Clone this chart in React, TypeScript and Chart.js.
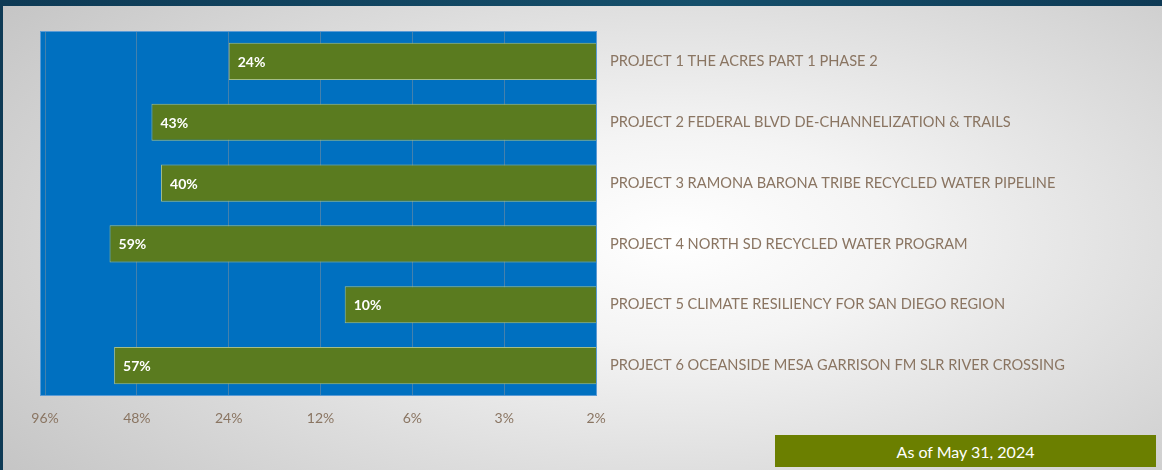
import { useEffect, useRef } from "react";
import { Chart, registerables } from "chart.js";

Chart.register(...registerables);

const categories = [
  "PROJECT 1 THE ACRES PART 1 PHASE 2",
  "PROJECT 2 FEDERAL BLVD DE-CHANNELIZATION & TRAILS",
  "PROJECT 3 RAMONA BARONA TRIBE RECYCLED WATER PIPELINE",
  "PROJECT 4 NORTH SD RECYCLED WATER PROGRAM",
  "PROJECT 5 CLIMATE RESILIENCY FOR SAN DIEGO REGION",
  "PROJECT 6 OCEANSIDE MESA GARRISON FM SLR RIVER CROSSING",
];
const values = [24, 43, 40, 59, 10, 57];
const tickValues = [96, 48, 24, 12, 6, 3, 1.5];
const tickLabels = ["96%", "48%", "24%", "12%", "6%", "3%", "2%"];
const asOfText = "As of May 31, 2024";

const FONT = "Lato, 'Open Sans', sans-serif";
const TEXT_COLOR = "#8a7562";

export default function App() {
  const ref = useRef<HTMLCanvasElement | null>(null);

  useEffect(() => {
    if (!ref.current) return;
    const plotBg = {
      id: "plotBg",
      beforeDraw(chart: any) {
        const { ctx, chartArea: a } = chart;
        ctx.save();
        ctx.fillStyle = "#0070c0";
        ctx.fillRect(a.left, a.top, a.right - a.left, a.bottom - a.top);
        ctx.restore();
      },
      afterDraw(chart: any) {
        const { ctx, chartArea: a } = chart;
        ctx.save();
        ctx.strokeStyle = "#5b9bd5";
        ctx.lineWidth = 1;
        ctx.strokeRect(a.left + 0.5, a.top + 0.5, a.right - a.left - 1, a.bottom - a.top - 1);
        ctx.restore();
      },
    };
    const dataLabels = {
      id: "dataLabels",
      afterDatasetsDraw(chart: any) {
        const { ctx } = chart;
        const meta = chart.getDatasetMeta(0);
        ctx.save();
        ctx.fillStyle = "#ffffff";
        ctx.font = `bold 14px ${FONT}`;
        ctx.textBaseline = "middle";
        ctx.textAlign = "left";
        meta.data.forEach((bar: any, i: number) => {
          const left = Math.min(bar.x, bar.base);
          ctx.fillText(values[i] + "%", left + 9, bar.y + 1);
        });
        ctx.restore();
      },
    };

    const chart = new Chart(ref.current, {
      type: "bar",
      data: {
        labels: categories,
        datasets: [
          {
            data: values,
            backgroundColor: "#5a7b1f",
            borderColor: "#a4bd86",
            borderWidth: 1,
            borderSkipped: false,
            barPercentage: 0.61,
            categoryPercentage: 1,
          },
        ],
      },
      options: {
        indexAxis: "y",
        responsive: false,
        animation: false,
        layout: { padding: { left: 40, top: 31, right: 0, bottom: 0 } },
        plugins: { legend: { display: false }, tooltip: { enabled: false } },
        scales: {
          x: {
            type: "logarithmic",
            reverse: true,
            min: 1.49,
            max: 99.7,
            z: 1,
            afterBuildTicks(scale: any) {
              scale.ticks = tickValues.map((v) => ({ value: v }));
            },
            afterFit(scale: any) {
              scale.height = 44;
            },
            grid: { color: "rgba(150,150,150,0.45)", drawTicks: false, lineWidth: 1 },
            border: { display: false },
            ticks: {
              autoSkip: false,
              maxRotation: 0,
              padding: 14,
              color: TEXT_COLOR,
              font: { family: FONT, size: 14 },
              callback: (v: any) => {
                const idx = tickValues.indexOf(Number(v));
                return idx >= 0 ? tickLabels[idx] : "";
              },
            },
          },
          y: {
            position: "right",
            afterFit(scale: any) {
              scale.width = 1162 - 597;
            },
            grid: { display: false, drawTicks: false },
            border: { display: false },
            ticks: {
              padding: 13,
              color: TEXT_COLOR,
              font: { family: FONT, size: 14.6 },
            },
          },
        },
      },
      plugins: [plotBg, dataLabels],
    } as any);
    return () => chart.destroy();
  }, []);

  return (
    <div
      style={{
        position: "absolute",
        left: 0,
        top: 0,
        width: 1162,
        height: 470,
        overflow: "hidden",
        background: "linear-gradient(90deg, #0e3a55 0%, #154f6b 60%, #0e3a55 100%)",
      }}
    >
      <div
        style={{
          position: "absolute",
          left: 3,
          top: 6,
          width: 1159,
          height: 464,
          background:
            "radial-gradient(ellipse 75% 90% at 58% 50%, #ffffff 0%, #f4f4f4 25%, #dcdcdc 60%, #c2c2c2 100%)",
        }}
      />
      <canvas
        ref={ref}
        width={1162}
        height={440}
        style={{ position: "absolute", left: 0, top: 0, width: 1162, height: 440 }}
      />
      <div
        style={{
          position: "absolute",
          left: 775,
          top: 435,
          width: 381,
          height: 32,
          background: "#6b7f00",
          color: "#ffffff",
          fontFamily: FONT,
          fontSize: 16,
          display: "flex",
          alignItems: "center",
          justifyContent: "center",
        }}
      >
        {asOfText}
      </div>
    </div>
  );
}
